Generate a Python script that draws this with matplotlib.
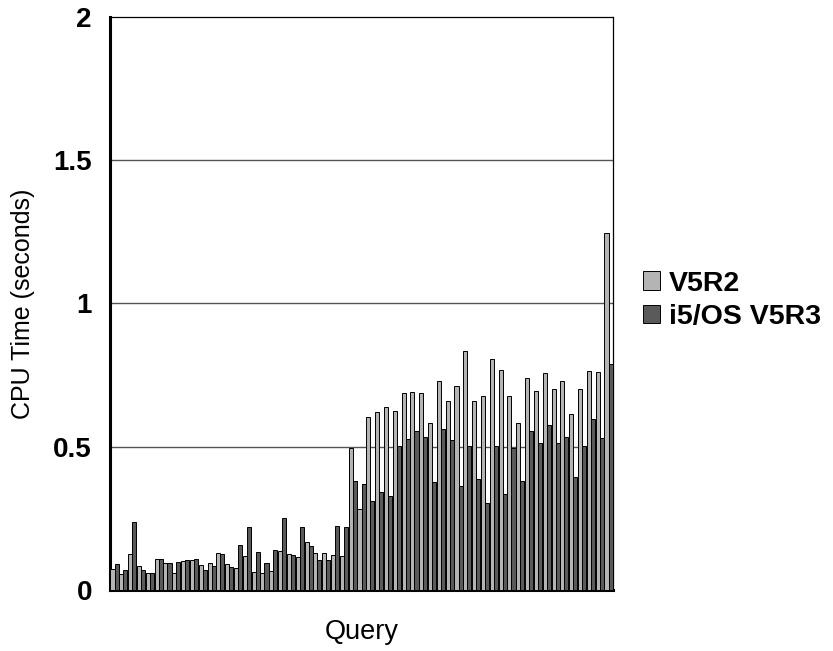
import numpy as np
import matplotlib.pyplot as plt

plt.rcParams['font.family'] = ['Liberation Sans', 'DejaVu Sans']

# CPU time per query (seconds)
v5r2 = [0.073, 0.057, 0.126, 0.083, 0.058, 0.109, 0.093, 0.060, 0.102, 0.105,
        0.087, 0.093, 0.130, 0.090, 0.078, 0.117, 0.062, 0.058, 0.065, 0.136,
        0.124, 0.114, 0.168, 0.130, 0.130, 0.121, 0.118, 0.494, 0.283, 0.603,
        0.620, 0.640, 0.624, 0.689, 0.692, 0.689, 0.583, 0.731, 0.660, 0.712,
        0.835, 0.660, 0.678, 0.806, 0.769, 0.678, 0.584, 0.740, 0.695, 0.758,
        0.702, 0.728, 0.615, 0.700, 0.764, 0.760, 1.247]
v5r3 = [0.090, 0.069, 0.236, 0.069, 0.058, 0.109, 0.093, 0.097, 0.105, 0.109,
        0.070, 0.083, 0.126, 0.080, 0.156, 0.219, 0.131, 0.095, 0.140, 0.252,
        0.121, 0.219, 0.155, 0.104, 0.104, 0.224, 0.220, 0.381, 0.369, 0.312,
        0.341, 0.328, 0.504, 0.526, 0.555, 0.534, 0.377, 0.562, 0.524, 0.363,
        0.501, 0.389, 0.302, 0.501, 0.334, 0.497, 0.382, 0.556, 0.514, 0.575,
        0.513, 0.534, 0.394, 0.501, 0.597, 0.532, 0.789]
names = ['V5R2', 'i5/OS V5R3']
yticks = [0, 0.5, 1, 1.5, 2]
ytick_labels = ['0', '0.5', '1', '1.5', '2']

x = np.arange(len(v5r2))
w = 0.46

fig = plt.figure(figsize=(8.33, 6.51), dpi=100)
ax = fig.add_axes([0.132, 0.0937, 0.604, 0.8802])

ax.bar(x - w / 2, v5r2, w, color='#b4b4b4', edgecolor='black', linewidth=0.7, label=names[0], zorder=3)
ax.bar(x + w / 2, v5r3, w, color='#5a5a5a', edgecolor='black', linewidth=0.7, label=names[1], zorder=3)

ax.set_xlim(-0.52, len(x) - 0.48)
ax.set_ylim(0, 2)
ax.set_xticks([])
ax.set_yticks(yticks)
ax.set_yticklabels(ytick_labels, fontsize=20, fontweight='bold')
ax.tick_params(axis='y', length=0, pad=13)
for yv in [0.5, 1, 1.5]:
    ax.axhline(yv, color='#555555', linewidth=1, zorder=1)

ax.spines['left'].set_linewidth(2.2)
ax.spines['bottom'].set_linewidth(2.2)
ax.spines['top'].set_linewidth(0.9)
ax.spines['right'].set_linewidth(0.9)

ax.set_ylabel('CPU Time (seconds)', fontsize=18, va='center')
ax.yaxis.set_label_coords(-0.173, 0.5)
ax.set_xlabel('Query', fontsize=19.5, va='center')
ax.xaxis.set_label_coords(0.5, -0.073)

fig.legend(loc='center left', bbox_to_anchor=(0.755, 0.539), frameon=False,
           prop={'size': 20.5, 'weight': 'bold'}, handlelength=0.6, handleheight=0.6,
           handletextpad=0.3, labelspacing=0.25, borderpad=0)

fig.savefig('out.png', dpi=100)
